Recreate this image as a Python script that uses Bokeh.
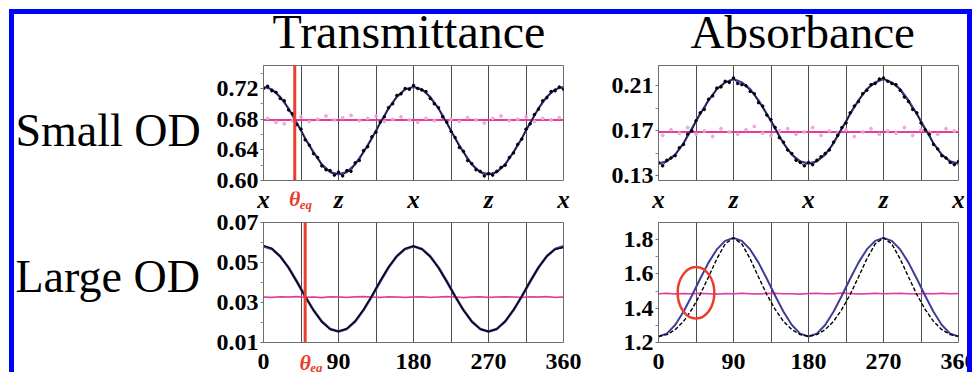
from bokeh.plotting import figure
from bokeh.layouts import column, row
from bokeh.models import (Range1d, FixedTicker, PrintfTickFormatter, Span,
                          GlobalInlineStyleSheet)
from bokeh.core.properties import value
from bokeh.embed import file_html
from bokeh.resources import INLINE

# ---------------- data ----------------
angles10 = list(range(0, 361, 10))
angles5 = list(range(0, 361, 5))
angles_mid = list(range(5, 360, 10))

grid_angles = [45, 90, 135, 180, 225, 270, 315]
xtick_vals = [0, 90, 180, 270, 360]
top_letters = ["x", "z", "x", "z", "x"]
bottom_labels = ["0", "90", "180", "270", "360"]
titles = ["Transmittance", "Absorbance"]
row_labels = ["Small OD", "Large OD"]

# Transmittance, small OD
ts_fit = [0.722, 0.719, 0.709, 0.694, 0.675, 0.655, 0.637, 0.621, 0.611, 0.608,
          0.611, 0.621, 0.637, 0.655, 0.675, 0.694, 0.709, 0.719, 0.722,
          0.719, 0.709, 0.694, 0.675, 0.655, 0.637, 0.621, 0.611, 0.608,
          0.611, 0.621, 0.637, 0.655, 0.675, 0.694, 0.709, 0.719, 0.722]
ts_data = [0.720, 0.723, 0.717, 0.715, 0.707, 0.704, 0.692, 0.687, 0.673, 0.667,
           0.653, 0.646, 0.635, 0.630, 0.619, 0.614, 0.613, 0.607, 0.611, 0.606,
           0.613, 0.612, 0.623, 0.626, 0.639, 0.644, 0.657, 0.663, 0.676, 0.683,
           0.695, 0.700, 0.711, 0.713, 0.720, 0.719, 0.724, 0.720, 0.718, 0.716,
           0.707, 0.700, 0.695, 0.683, 0.676, 0.664, 0.656, 0.643, 0.638, 0.626,
           0.622, 0.614, 0.612, 0.606, 0.609, 0.607, 0.612, 0.617, 0.620, 0.630,
           0.636, 0.647, 0.654, 0.667, 0.674, 0.686, 0.693, 0.704, 0.708, 0.716,
           0.717, 0.722, 0.719]
ts_iso_fit = 0.679
ts_iso = [0.681, 0.676, 0.674, 0.678, 0.683, 0.677,
          0.680, 0.684, 0.679, 0.682, 0.685, 0.678,
          0.681, 0.684, 0.677, 0.680, 0.683, 0.679,
          0.676, 0.681, 0.678, 0.684, 0.680, 0.677,
          0.682, 0.679, 0.675, 0.681, 0.684, 0.678,
          0.680, 0.683, 0.677, 0.681, 0.679, 0.682]
ts_yticks = [0.60, 0.64, 0.68, 0.72]
ts_yminor = [0.62, 0.66, 0.70, 0.74]
theta_eq_small = 37.5

# Absorbance, small OD
as_fit = [0.141, 0.143, 0.149, 0.159, 0.172, 0.185, 0.197, 0.207, 0.213, 0.216,
          0.213, 0.207, 0.197, 0.185, 0.172, 0.159, 0.149, 0.143, 0.141,
          0.143, 0.149, 0.159, 0.172, 0.185, 0.197, 0.207, 0.213, 0.216,
          0.213, 0.207, 0.197, 0.185, 0.172, 0.159, 0.149, 0.143, 0.141]
as_data = [0.142, 0.139, 0.144, 0.146, 0.148, 0.155, 0.158, 0.167, 0.170, 0.179,
           0.186, 0.189, 0.198, 0.201, 0.208, 0.209, 0.214, 0.213, 0.217, 0.212,
           0.211, 0.210, 0.205, 0.203, 0.195, 0.192, 0.184, 0.180, 0.173, 0.164,
           0.160, 0.153, 0.150, 0.144, 0.142, 0.139, 0.142, 0.140, 0.144, 0.147,
           0.150, 0.153, 0.160, 0.166, 0.173, 0.177, 0.186, 0.192, 0.196, 0.203,
           0.206, 0.211, 0.212, 0.216, 0.217, 0.214, 0.212, 0.211, 0.206, 0.200,
           0.196, 0.189, 0.186, 0.177, 0.171, 0.167, 0.158, 0.154, 0.148, 0.146,
           0.142, 0.140, 0.143]
as_iso_fit = 0.169
as_iso = [0.166, 0.171, 0.168, 0.173, 0.167, 0.170,
          0.165, 0.172, 0.169, 0.167, 0.171, 0.174,
          0.168, 0.166, 0.170, 0.172, 0.167, 0.169,
          0.173, 0.166, 0.170, 0.168, 0.171, 0.165,
          0.169, 0.172, 0.167, 0.170, 0.168, 0.173,
          0.166, 0.171, 0.169, 0.167, 0.172, 0.170]
as_yticks = [0.13, 0.17, 0.21]
as_yminor = [0.15, 0.19]

# Transmittance, large OD
tl_fit = [0.0581, 0.0568, 0.0531, 0.0475, 0.0405, 0.0331, 0.0262, 0.0205, 0.0168, 0.0155,
          0.0168, 0.0205, 0.0262, 0.0331, 0.0405, 0.0475, 0.0531, 0.0568, 0.0581,
          0.0568, 0.0531, 0.0475, 0.0405, 0.0331, 0.0262, 0.0205, 0.0168, 0.0155,
          0.0168, 0.0205, 0.0262, 0.0331, 0.0405, 0.0475, 0.0531, 0.0568, 0.0581]
tl_data = [0.0585, 0.0571, 0.0530, 0.0474, 0.0403, 0.0330, 0.0260, 0.0203, 0.0166, 0.0156,
           0.0169, 0.0207, 0.0264, 0.0333, 0.0407, 0.0477, 0.0533, 0.0570, 0.0582,
           0.0567, 0.0529, 0.0473, 0.0404, 0.0331, 0.0261, 0.0204, 0.0167, 0.0154,
           0.0167, 0.0206, 0.0263, 0.0332, 0.0406, 0.0476, 0.0532, 0.0566, 0.0575]
tl_iso_fit = 0.0327
tl_iso = [0.0327, 0.0325, 0.0329, 0.0327, 0.0330, 0.0325, 0.0327, 0.0324, 0.0329, 0.0327,
          0.0325, 0.0329, 0.0330, 0.0327, 0.0325, 0.0329, 0.0327, 0.0325, 0.0327,
          0.0329, 0.0325, 0.0327, 0.0330, 0.0327, 0.0324, 0.0327, 0.0329, 0.0325,
          0.0327, 0.0329, 0.0327, 0.0325, 0.0329, 0.0327, 0.0330, 0.0325, 0.0327]
tl_yticks = [0.01, 0.03, 0.05, 0.07]
tl_yminor = [0.02, 0.04, 0.06]
theta_eq_large = 50

# Absorbance, large OD
al_fit = [1.235, 1.252, 1.302, 1.379, 1.473, 1.572, 1.666, 1.743, 1.793, 1.810,
          1.793, 1.743, 1.666, 1.572, 1.473, 1.379, 1.302, 1.252, 1.235,
          1.252, 1.302, 1.379, 1.473, 1.572, 1.666, 1.743, 1.793, 1.810,
          1.793, 1.743, 1.666, 1.572, 1.473, 1.379, 1.302, 1.252, 1.235]
al_data = [1.236, 1.246, 1.275, 1.323, 1.393, 1.480, 1.582, 1.688, 1.775, 1.810,
           1.775, 1.688, 1.582, 1.480, 1.393, 1.323, 1.275, 1.246, 1.236,
           1.246, 1.275, 1.323, 1.393, 1.480, 1.582, 1.688, 1.775, 1.810,
           1.775, 1.688, 1.582, 1.480, 1.393, 1.323, 1.275, 1.246, 1.236]
al_iso_fit = 1.485
al_iso = [1.485, 1.487, 1.483, 1.486, 1.484, 1.488, 1.485, 1.482, 1.486, 1.484,
          1.487, 1.485, 1.483, 1.486, 1.488, 1.484, 1.485, 1.482, 1.486,
          1.487, 1.484, 1.485, 1.489, 1.486, 1.483, 1.485, 1.487, 1.484,
          1.486, 1.488, 1.485, 1.483, 1.486, 1.484, 1.487, 1.485, 1.486]
al_yticks = [1.2, 1.4, 1.6, 1.8]
al_yminor = [1.3, 1.5, 1.7]
circle_x, circle_y, circle_w, circle_h = 45, 1.49, 44, 0.30

# ---------------- styling / layout ----------------
SERIF = "Liberation Serif"
FIT_BLUE = "#3e3e98"
MAGENTA = "#e23c9e"
PINK = "#f1a3d3"
RED = "#e8402c"
GRID = "#4d4d4d"

SIDE_W = 196
L_W, L_BL, L_BR = 398, 53, 45
R_W, R_BL, R_BR = 359, 50, 9
FRAME_W = 300
TITLE_H, TOP_H, STRIP1_H, BOT_H, STRIP2_H = 43, 134, 21, 139, 21
TOTAL_H = TITLE_H + TOP_H + STRIP1_H + BOT_H + STRIP2_H
BASELINE_SHIFT = 0.36   # compensates the vertical anchor of the svg text


def blank(width, height, xr, yr):
    p = figure(width=width, height=height, x_range=xr, y_range=yr, title=None,
               x_axis_type=None, y_axis_type=None, output_backend="svg",
               toolbar_location=None, min_border=0, min_border_left=0, min_border_right=0,
               min_border_top=0, min_border_bottom=0, frame_align=False,
               background_fill_color="white", border_fill_color="white")
    p.outline_line_color = None
    return p


def strip(width, border_left, height):
    scale = 360.0 / FRAME_W
    return blank(width, height,
                 Range1d(-border_left * scale, (width - border_left) * scale),
                 Range1d(0, height))


def put_text(p, xs, ys, texts, size, style="normal", color="black", align="center", xoff=0):
    ys = [y + BASELINE_SHIFT * size for y in ys]
    p.text(x=xs, y=ys, text=texts, text_font=value(SERIF), text_font_size=value(f"{size}px"),
           text_font_style=value(style), text_color=color, text_align=value(align),
           text_baseline=value("alphabetic"), x_offset=xoff)


def panel(width, height, bl, br, bt, bb, y0, y1, yticks, yminor, yfmt):
    p = figure(width=width, height=height, x_range=Range1d(0, 360), y_range=Range1d(y0, y1),
               title=None, output_backend="svg", toolbar_location=None, min_border=0,
               min_border_left=bl, min_border_right=br, min_border_top=bt, min_border_bottom=bb,
               frame_align=False,
               background_fill_color="white", border_fill_color="white")
    p.outline_line_color = "#6e6e6e"
    p.ygrid.visible = False
    p.xaxis.visible = False
    p.xgrid.ticker = FixedTicker(ticks=grid_angles)
    p.xgrid.grid_line_color = GRID
    p.xgrid.grid_line_width = 1
    p.xgrid.grid_line_alpha = 1

    ya = p.yaxis[0]
    ya.ticker = FixedTicker(ticks=yticks, minor_ticks=yminor)
    ya.formatter = PrintfTickFormatter(format=yfmt)
    ya.axis_line_color = "#6e6e6e"
    ya.major_tick_line_color = "#6e6e6e"
    ya.minor_tick_line_color = "#8a8a8a"
    ya.major_tick_in = 0
    ya.major_tick_out = 3
    ya.minor_tick_in = 0
    ya.minor_tick_out = 3
    ya.major_label_standoff = 2
    ya.major_label_text_font = SERIF
    ya.major_label_text_font_style = "bold"
    ya.major_label_text_font_size = "24px"
    ya.major_label_text_color = "black"
    return p


# --- side labels ---
side = blank(SIDE_W, TOTAL_H, Range1d(0, SIDE_W), Range1d(0, TOTAL_H))
put_text(side, [1, 1], [225, 79], row_labels, 46, align="left")

# --- titles ---
tL = blank(L_W, TITLE_H, Range1d(0, L_W), Range1d(0, TITLE_H))
put_text(tL, [62], [9], [titles[0]], 48, align="left")
tR = blank(R_W, TITLE_H, Range1d(0, R_W), Range1d(0, TITLE_H))
put_text(tR, [82], [9], [titles[1]], 47, align="left")

# --- Transmittance small OD ---
p1 = panel(L_W, TOP_H, L_BL, L_BR, 8, 11, 0.60, 0.75, ts_yticks, ts_yminor, "%.2f")
p1.add_layout(Span(location=theta_eq_small, dimension="height", line_color=RED, line_width=3))
p1.line([0, 360], [ts_iso_fit, ts_iso_fit], line_color=MAGENTA, line_width=2)
p1.scatter(angles_mid, ts_iso, size=3, color=PINK, alpha=0.9)
p1.line(angles10, ts_fit, line_color=FIT_BLUE, line_width=2.2)
p1.line(angles5, ts_data, line_color="black", line_width=1, alpha=0.75)
p1.scatter(angles5, ts_data, size=2.5, color="black")

# --- Absorbance small OD ---
p2 = panel(R_W, TOP_H, R_BL, R_BR, 8, 11, 0.126, 0.228, as_yticks, as_yminor, "%.2f")
p2.line([0, 360], [as_iso_fit, as_iso_fit], line_color=MAGENTA, line_width=2)
p2.scatter(angles_mid, as_iso, size=3, color=PINK, alpha=0.9)
p2.line(angles10, as_fit, line_color=FIT_BLUE, line_width=2.2)
p2.line(angles5, as_data, line_color="black", line_width=1, alpha=0.75)
p2.scatter(angles5, as_data, size=2.5, color="black")

# --- strip with x / z letters ---
s1L = strip(L_W, L_BL, STRIP1_H)
put_text(s1L, xtick_vals, [4] * len(xtick_vals), top_letters, 25, style="bold italic")
put_text(s1L, [theta_eq_small], [6], ["θ"], 22, style="bold italic", color=RED)
put_text(s1L, [theta_eq_small], [3], ["eq"], 13, style="bold italic", color=RED,
         align="left", xoff=5)
s1R = strip(R_W, R_BL, STRIP1_H)
put_text(s1R, xtick_vals, [4] * len(xtick_vals), top_letters, 25, style="bold italic")

# --- Transmittance large OD ---
p3 = panel(L_W, BOT_H, L_BL, L_BR, 10, 9, 0.01, 0.07, tl_yticks, tl_yminor, "%.2f")
p3.add_layout(Span(location=theta_eq_large, dimension="height", line_color=RED, line_width=3))
p3.line(angles10, tl_iso, line_color=MAGENTA, line_width=1.5)
p3.line([0, 360], [tl_iso_fit, tl_iso_fit], line_color=MAGENTA, line_width=1, alpha=0.6)
p3.line(angles10, tl_fit, line_color=FIT_BLUE, line_width=2.6)
p3.line(angles10, tl_data, line_color="black", line_width=1.3)

# --- Absorbance large OD ---
p4 = panel(R_W, BOT_H, R_BL, R_BR, 10, 9, 1.2, 1.9, al_yticks, al_yminor, "%.1f")
p4.line(angles10, al_iso, line_color=MAGENTA, line_width=1.5)
p4.line([0, 360], [al_iso_fit, al_iso_fit], line_color=MAGENTA, line_width=1, alpha=0.6)
p4.line(angles10, al_fit, line_color=FIT_BLUE, line_width=2)
p4.line(angles10, al_data, line_color="black", line_width=1.4, line_dash="4 2")
p4.ellipse(x=[circle_x], y=[circle_y], width=[circle_w], height=[circle_h],
           fill_color=None, line_color=RED, line_width=2.5)

# --- strip with degree numbers ---
s2L = strip(L_W, L_BL, STRIP2_H)
put_text(s2L, xtick_vals, [2] * len(xtick_vals), bottom_labels, 24, style="bold")
put_text(s2L, [theta_eq_large], [2], ["θ"], 22, style="bold italic", color=RED)
put_text(s2L, [theta_eq_large], [0], ["eq"], 13, style="bold italic", color=RED,
         align="left", xoff=5)
s2R = strip(R_W, R_BL, STRIP2_H)
put_text(s2R, xtick_vals, [2] * len(xtick_vals), bottom_labels, 24, style="bold")

css = GlobalInlineStyleSheet(css="""
html { margin: 0 !important; padding: 0 !important; overflow: hidden !important; }
body { margin: 9px 0 0 9px !important; padding: 0 !important;
       border-top: 5px solid #0000ff; border-left: 5px solid #0000ff;
       border-right: 5px solid #0000ff; box-sizing: content-box !important;
       width: 953px; height: 358px !important; overflow: hidden; background: white; }
""")

colL = column(tL, p1, s1L, p3, s2L, spacing=0)
colR = column(tR, p2, s1R, p4, s2R, spacing=0)
layout = row(side, colL, colR, spacing=0, stylesheets=[css])

open("out.html", "w").write(file_html(layout, INLINE))
